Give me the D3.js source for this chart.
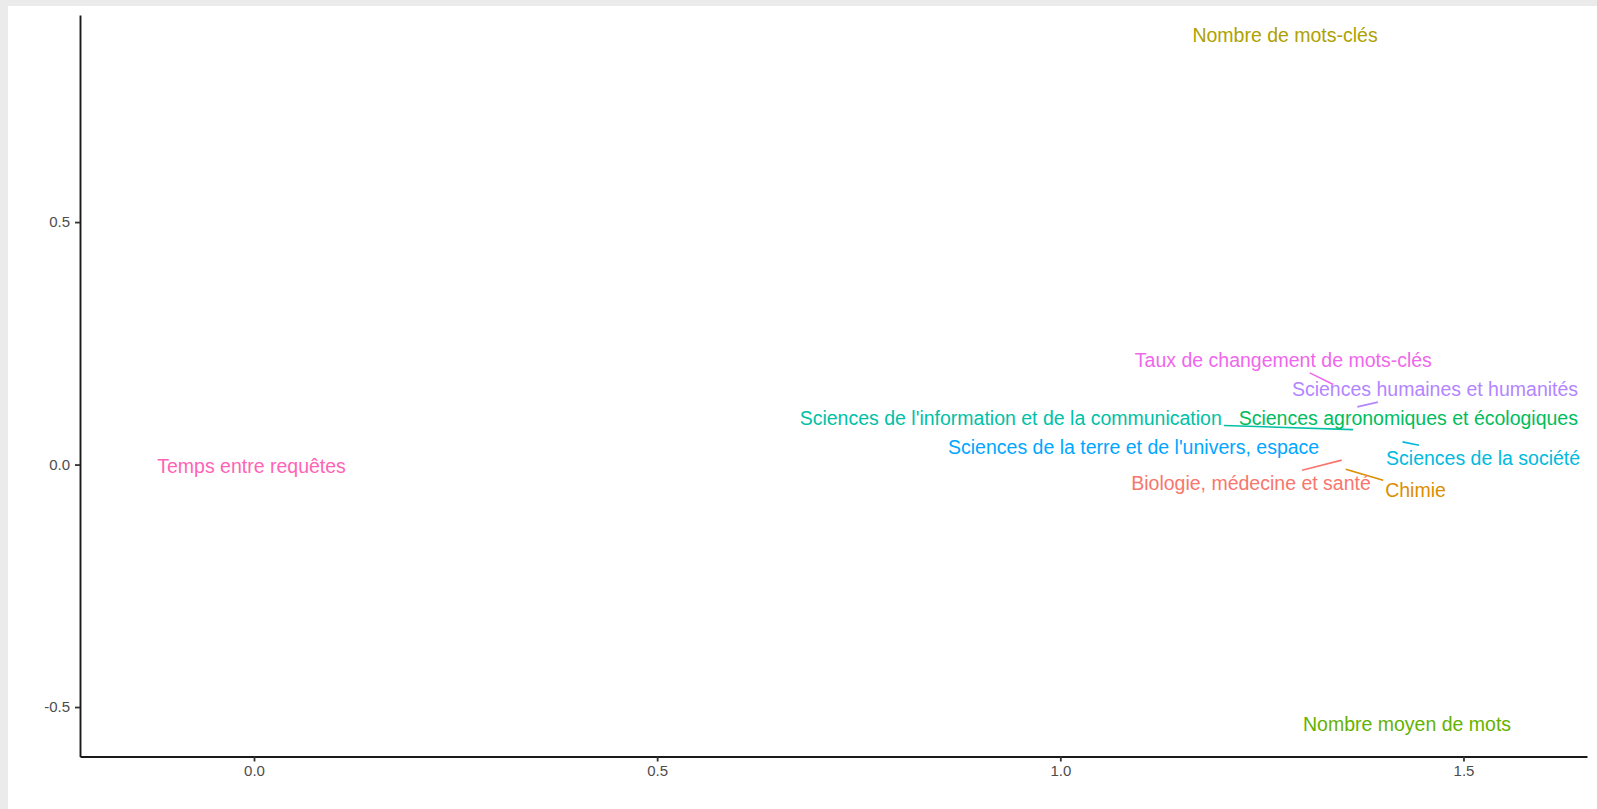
<!DOCTYPE html>
<html>
<head>
<meta charset="utf-8">
<script src="https://cdn.jsdelivr.net/npm/d3@7"></script>
<style>
  html, body { margin: 0; padding: 0; background: #ebebeb; }
  svg { display: block; }
</style>
</head>
<body>
<svg id="chart" width="1597" height="809"></svg>
<script>
// Variables and disciplines on the first two factorial dimensions
const labels = [
  "Biologie, médecine et santé",
  "Chimie",
  "Nombre de mots-clés",
  "Nombre moyen de mots",
  "Sciences agronomiques et écologiques",
  "Sciences de l'information et de la communication",
  "Sciences de la société",
  "Sciences de la terre et de l'univers, espace",
  "Sciences humaines et humanités",
  "Taux de changement de mots-clés",
  "Temps entre requêtes"
];
// coordinates of each point
const pointX = [1.349, 1.354, 1.2787, 1.430, 1.3345, 1.363, 1.4244, 1.300, 1.3683, 1.3386, -0.003];
const pointY = [0.0091, -0.0095, 0.8837, -0.538, 0.074, 0.072, 0.0468, 0.035, 0.119, 0.1652, -0.0054];
// repelled label centres
const labelX = [1.2365, 1.4405, 1.2787, 1.430, 1.4316, 0.9385, 1.5243, 1.0909, 1.4647, 1.2766, -0.003];
const labelY = [-0.0385, -0.0522, 0.8857, -0.536, 0.095, 0.095, 0.0131, 0.0352, 0.1555, 0.2159, -0.0034];

const palette = ["#F8766D", "#DB8E00", "#AEA200", "#64B200", "#00BD5C", "#00C1A7",
                 "#00BADE", "#00A6FF", "#B385FF", "#EF67EB", "#FF63B6"];

const xTicks = [0, 0.5, 1, 1.5];
const yTicks = [-0.5, 0, 0.5];
const xDomain = [-0.2158, 1.6532];
const yDomain = [-0.602, 0.927];

const svg = d3.select("#chart");
const W = 1597, H = 809;
const panel = { left: 80, right: 1587, top: 15, bottom: 756.5 };

// page frame
svg.append("rect").attr("x", 0).attr("y", 0).attr("width", W).attr("height", H).attr("fill", "#ebebeb");
svg.append("rect").attr("x", 8).attr("y", 6).attr("width", W - 8).attr("height", H - 6).attr("fill", "#ffffff");

const x = d3.scaleLinear().domain(xDomain).range([panel.left, panel.right]);
const y = d3.scaleLinear().domain(yDomain).range([panel.bottom, panel.top]);

const fmt = d => d3.format(".1f")(d).replace("−", "-");
const font = "'Liberation Sans', Arial, Helvetica, sans-serif";

const xAxis = svg.append("g")
  .attr("transform", `translate(0,${panel.bottom})`)
  .call(d3.axisBottom(x).tickValues(xTicks).tickFormat(fmt).tickSize(5).tickSizeOuter(0).tickPadding(4));
const yAxis = svg.append("g")
  .attr("transform", `translate(${panel.left},0)`)
  .call(d3.axisLeft(y).tickValues(yTicks).tickFormat(fmt).tickSize(5).tickSizeOuter(0).tickPadding(5));

[xAxis, yAxis].forEach(g => {
  g.select(".domain").attr("stroke", "#1a1a1a").attr("stroke-width", 1.9);
  g.selectAll(".tick line").attr("stroke", "#333333").attr("stroke-width", 1.8);
  g.selectAll(".tick text").attr("fill", "#4d4d4d").attr("font-size", 15).attr("font-family", font);
});

const rows = labels.map((name, i) => ({
  name, color: palette[i],
  px: x(pointX[i]), py: y(pointY[i]),
  lx: x(labelX[i]), ly: y(labelY[i])
}));

const segLayer = svg.append("g");
const textLayer = svg.append("g");

const texts = textLayer.selectAll("text").data(rows).join("text")
  .attr("x", d => d.lx)
  .attr("y", d => d.ly)
  .attr("text-anchor", "middle")
  .attr("dominant-baseline", "central")
  .attr("font-family", font)
  .attr("font-size", 19.5)
  .attr("fill", d => d.color)
  .text(d => d.name);

// connector from the label box edge to its point, skipped when the point sits in the box
const pad = 2;
texts.each(function(d) {
  const b = this.getBBox();
  const x0 = b.x - pad, x1 = b.x + b.width + pad, y0 = b.y - pad, y1 = b.y + b.height + pad;
  if (d.px >= x0 && d.px <= x1 && d.py >= y0 && d.py <= y1) return;
  const dx = d.px - d.lx, dy = d.py - d.ly;
  let t = 1;
  if (dx !== 0) t = Math.min(t, Math.abs((dx > 0 ? x1 - d.lx : d.lx - x0) / dx));
  if (dy !== 0) t = Math.min(t, Math.abs((dy > 0 ? y1 - d.ly : d.ly - y0) / dy));
  segLayer.append("line")
    .attr("x1", d.lx + dx * t).attr("y1", d.ly + dy * t)
    .attr("x2", d.px).attr("y2", d.py)
    .attr("stroke", d.color).attr("stroke-width", 1.6);
});
</script>
</body>
</html>
